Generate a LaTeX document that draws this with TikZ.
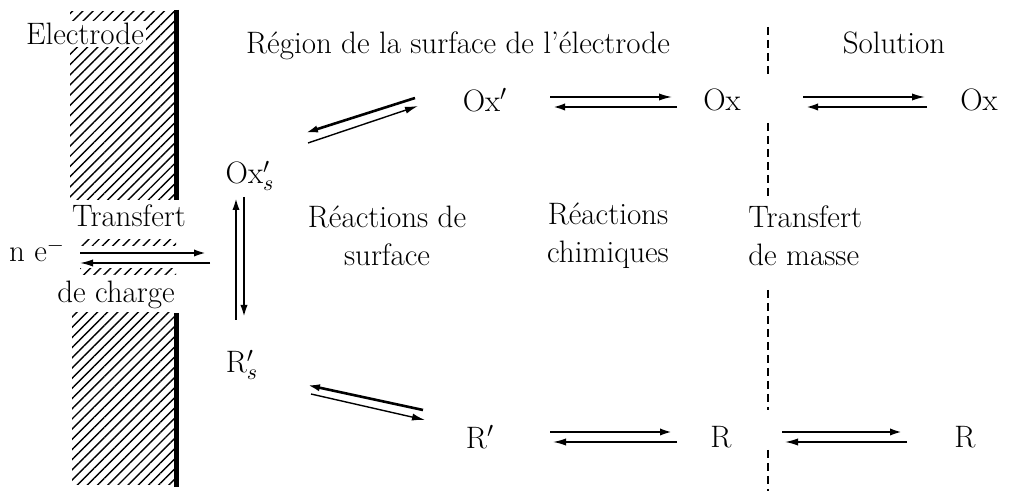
\documentclass[tikz,border=0pt]{standalone}
\usepackage{fontspec}
\usepackage{tikz}
\usetikzlibrary{arrows.meta,calc,patterns.meta}

\begin{document}
\begin{tikzpicture}[x=0.5pt,y=-0.5pt,>={Latex[length=6.5pt,width=3.6pt]}]
	\tikzstyle{lbl}=[font=\fontsize{15.5}{19}\selectfont, inner sep=1pt]
	\tikzstyle{hatch}=[pattern={Lines[angle=45,distance=3.6pt,line width=0.7pt]}]
	\tikzstyle{thinarr}=[->,line width=0.7pt]
	\tikzstyle{thickarr}=[->,line width=1.3pt]
	\tikzstyle{wall}=[line width=2.5pt]
	\tikzstyle{border}=[line width=1.2pt,dash pattern=on 4pt off 2.5pt]

	\useasboundingbox (0,0) rectangle (1014,491);

	\fill [hatch] (70,12) rectangle (176,200);
	\fill [hatch] (72,313) rectangle (176,485);
	\fill [hatch] (80,240) rectangle (176,246);
	\fill [hatch] (80,269) rectangle (176,275);

	\node (elec) [lbl, fill=white, anchor=base] at (85,45) {Electrode};
	\draw [wall] (176,10) -- (176,200);
	\draw [wall] (176,313) -- (176,487);

	\foreach \a/\b in {27/75,123/200,290/410,450/491}
		\draw [border] (768,\a) -- (768,\b);

	\node (region) [lbl, anchor=base] at (458,54) {Région de la surface de l'électrode};
	\node (sol) [lbl, anchor=base] at (894,54) {Solution};
	\node (transA) [lbl, anchor=base] at (129,227) {Transfert};
	\node (charge) [lbl, anchor=base] at (116,303) {de charge};
	\node (reacS) [lbl, align=center] at (387,236) {Réactions de\\surface};
	\node (reacC) [lbl, align=center] at (608,236) {Réactions\\chimiques};
	\node (transM) [lbl, align=left, anchor=west] at (746,236) {Transfert\\de masse};

	\node (ne) [lbl] at (37,250) {n e$^-$};
	\coordinate (surf) at (210,258);
	\node (OxpS) [lbl] at (250,176) {Ox$'_s$};
	\node (RpS) [lbl] at (242,365) {R$'_s$};
	\node (Oxp) [lbl] at (485,100) {Ox$'$};
	\node (OxA) [lbl] at (722,100) {Ox};
	\node (OxB) [lbl] at (979,100) {Ox};
	\node (Rp) [lbl] at (480,437) {R$'$};
	\node (RA) [lbl] at (721,437) {R};
	\node (RB) [lbl] at (965,437) {R};

	\draw [thickarr] ($(ne)+(43,3)$) -- ($(surf)+(-3,-5)$);
	\draw [thinarr] ($(surf)+(0,5)$) -- ($(ne)+(43,13)$);

	\draw [thickarr] ($(RpS)+(-6,-45)$) -- ($(OxpS)+(-14,21)$);
	\draw [thickarr] ($(OxpS)+(-6,21)$) -- ($(RpS)+(2,-47)$);

	\draw [thickarr] ($(Oxp)+(-70,-2)$) -- ($(OxpS)+(55,-43)$);
	\draw [thinarr] ($(OxpS)+(58,-33)$) -- ($(Oxp)+(-67,6)$);

	\draw [thickarr] ($(Rp)+(-57,-27)$) -- ($(RpS)+(65,20)$);
	\draw [thinarr] ($(RpS)+(69,29)$) -- ($(Rp)+(-55,-17)$);

	\draw [thinarr] ($(Oxp)+(65,-3)$) -- ($(OxA)+(-50,-3)$);
	\draw [thickarr] ($(OxA)+(-45,7)$) -- ($(Oxp)+(67,7)$);
	\draw [thinarr] ($(OxA)+(81,-3)$) -- ($(OxB)+(-54,-3)$);
	\draw [thickarr] ($(OxB)+(-52,7)$) -- ($(OxA)+(83,7)$);

	\draw [thickarr] ($(Rp)+(70,-5)$) -- ($(RA)+(-48,-5)$);
	\draw [thinarr] ($(RA)+(-44,5)$) -- ($(Rp)+(73,5)$);
	\draw [thickarr] ($(RA)+(61,-5)$) -- ($(RB)+(-62,-5)$);
	\draw [thinarr] ($(RB)+(-58,5)$) -- ($(RA)+(64,5)$);
\end{tikzpicture}
\end{document}
